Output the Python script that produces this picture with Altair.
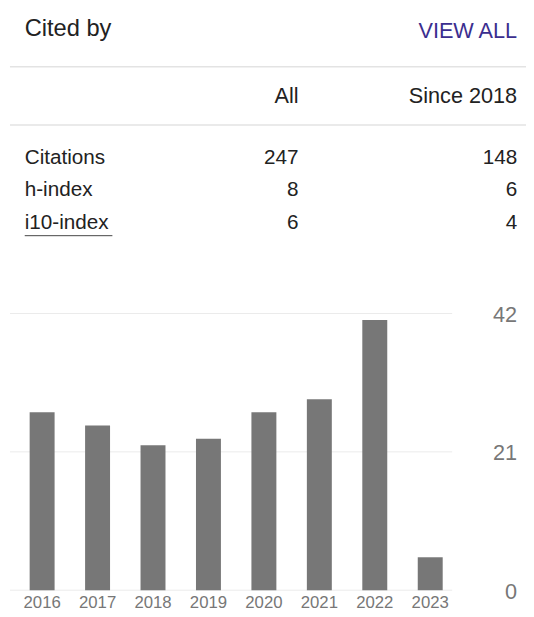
import altair as alt
import pandas as pd

# ---- data ----
years = ["2016", "2017", "2018", "2019", "2020", "2021", "2022", "2023"]
citations = [27, 25, 22, 23, 27, 29, 41, 5]
y_ticks = [0, 21, 42]
metrics = ["Citations", "h-index", "i10-index"]
all_vals = [247, 8, 6]
since_vals = [148, 6, 4]
columns = ["All", "Since 2018"]
title_text = "Cited by"
link_text = "VIEW ALL"

FONT = "Liberation Sans"
W, H = 526, 609

bars_df = pd.DataFrame({"year": years, "count": citations})
ticks_df = pd.DataFrame({"tick": y_ticks, "label": [str(t) for t in y_ticks]})
rows_df = pd.DataFrame({"metric": metrics})
vals_df = pd.DataFrame({
    "metric": metrics * 2,
    "col": [columns[0]] * len(metrics) + [columns[1]] * len(metrics),
    "value": [str(v) for v in all_vals + since_vals],
})
head_df = pd.DataFrame({"col": columns})

x_band = alt.Scale(type="band", domain=years, range=[2, 461.4],
                   paddingInner=0.55, paddingOuter=0.355)
y_lin = alt.Scale(domain=[0, 42], range=[586.5, 305.5], nice=False, zero=True)
row_scale = alt.Scale(type="point", domain=metrics, range=[153.7, 219.3], padding=0)
col_scale = alt.Scale(type="point", domain=columns, range=[295, 517], padding=0)

one = pd.DataFrame({"k": [0]})

title = alt.Chart(pd.DataFrame({"t": [title_text]})).mark_text(
    font=FONT, fontSize=24, color="#222222", align="left", baseline="alphabetic"
).encode(text="t:N", x=alt.value(17), y=alt.value(23.7))

link = alt.Chart(pd.DataFrame({"t": [link_text]})).mark_text(
    font=FONT, fontSize=22, color="#3b2e8f", align="right", baseline="alphabetic"
).encode(text="t:N", x=alt.value(517), y=alt.value(26))

sep1 = alt.Chart(one).mark_rule(color="#e3e3e3", strokeWidth=1.5).encode(
    x=alt.value(2), x2=alt.value(526), y=alt.value(55))
sep2 = alt.Chart(one).mark_rule(color="#e3e3e3", strokeWidth=1.5).encode(
    x=alt.value(2), x2=alt.value(526), y=alt.value(114))

heads = alt.Chart(head_df).mark_text(
    font=FONT, fontSize=22, color="#222222", align="right", baseline="alphabetic"
).encode(
    text="col:N",
    x=alt.X("col:N", scale=col_scale, axis=None),
    y=alt.value(91.3),
)

row_labels = alt.Chart(rows_df).mark_text(
    font=FONT, fontSize=21, color="#222222", align="left", baseline="alphabetic"
).encode(
    text="metric:N",
    x=alt.value(17),
    y=alt.Y("metric:N", scale=row_scale, axis=None),
)

row_vals = alt.Chart(vals_df).mark_text(
    font=FONT, fontSize=21, color="#222222", align="right", baseline="alphabetic"
).encode(
    text="value:N",
    x=alt.X("col:N", scale=col_scale, axis=None),
    y=alt.Y("metric:N", scale=row_scale, axis=None),
)

underline = alt.Chart(one).mark_rule(color="#444444", strokeWidth=1).encode(
    x=alt.value(17), x2=alt.value(106), y=alt.value(226.5))

grid = alt.Chart(ticks_df).mark_rule(color="#ebebeb", strokeWidth=1).encode(
    x=alt.value(2), x2=alt.value(451),
    y=alt.Y("tick:Q", scale=y_lin, axis=None),
)

bars = alt.Chart(bars_df).mark_bar(color="#777777").encode(
    x=alt.X("year:O", scale=x_band, axis=None),
    y=alt.Y("count:Q", scale=y_lin, axis=None),
)

year_labels = alt.Chart(bars_df).mark_text(
    font=FONT, fontSize=17, color="#777777", align="center", baseline="middle"
).encode(
    text="year:N",
    x=alt.X("year:O", scale=x_band, axis=None),
    y=alt.value(600),
)

tick_labels = alt.Chart(ticks_df).mark_text(
    font=FONT, fontSize=22, color="#777777", align="right", baseline="middle", dy=1.5
).encode(
    text="label:N",
    x=alt.value(517),
    y=alt.Y("tick:Q", scale=y_lin, axis=None),
)

chart = alt.layer(
    sep1, sep2, title, link, heads, row_labels, row_vals, underline,
    grid, bars, year_labels, tick_labels,
).resolve_scale(x="independent", y="independent").properties(
    width=W, height=H, padding=0, autosize="none", background="white"
).configure_view(stroke=None)

chart.save("out.html", embed_options={"renderer": "svg", "actions": False})
